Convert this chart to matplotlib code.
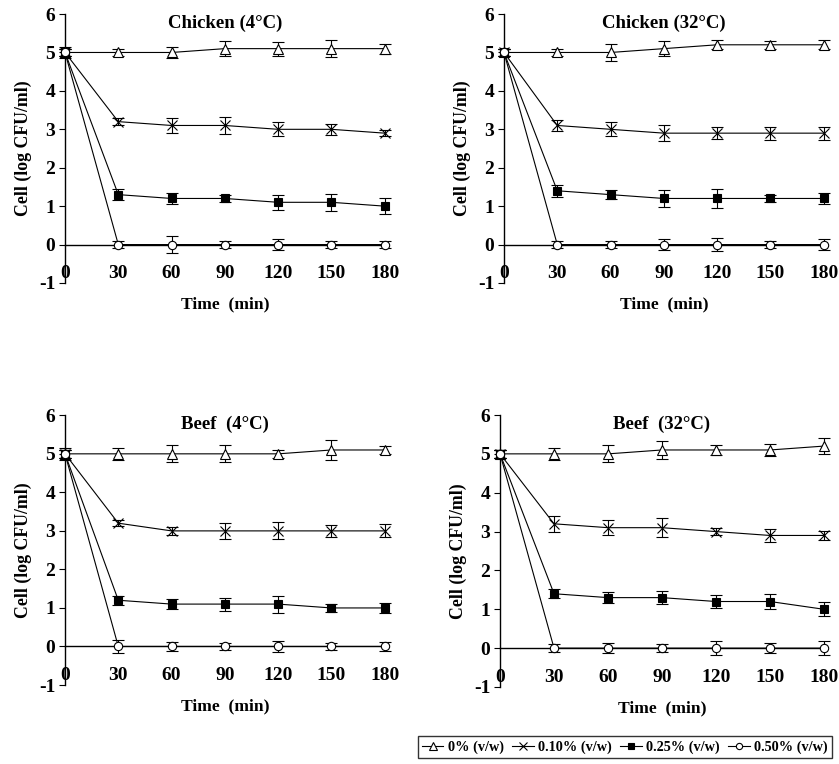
import matplotlib
matplotlib.use("Agg")
import matplotlib.pyplot as plt
from matplotlib.lines import Line2D

plt.rcParams['font.family'] = ['Liberation Serif', 'DejaVu Serif']
plt.rcParams['font.weight'] = 'bold'
plt.rcParams['axes.unicode_minus'] = False

time = [0, 30, 60, 90, 120, 150, 180]
labels = ['0% (v/w)', '0.10% (v/w)', '0.25% (v/w)', '0.50% (v/w)']

# Chicken 4C
ck4_0 = [5, 5, 5, 5.1, 5.1, 5.1, 5.1]
ck4_0_err = [0.15, 0.1, 0.15, 0.2, 0.18, 0.22, 0.13]
ck4_10 = [5, 3.2, 3.1, 3.1, 3.0, 3.0, 2.9]
ck4_10_err = [0.1, 0.1, 0.2, 0.22, 0.18, 0.15, 0.08]
ck4_25 = [5, 1.3, 1.2, 1.2, 1.1, 1.1, 1.0]
ck4_25_err = [0.1, 0.15, 0.15, 0.08, 0.2, 0.22, 0.2]
ck4_50 = [5, 0, 0, 0, 0, 0, 0]
ck4_50_err = [0.1, 0.08, 0.22, 0.08, 0.15, 0.08, 0.08]

# Chicken 32C
ck32_0 = [5, 5, 5, 5.1, 5.2, 5.2, 5.2]
ck32_0_err = [0.1, 0.1, 0.22, 0.2, 0.12, 0.1, 0.12]
ck32_10 = [5, 3.1, 3.0, 2.9, 2.9, 2.9, 2.9]
ck32_10_err = [0.1, 0.15, 0.18, 0.2, 0.15, 0.17, 0.17]
ck32_25 = [5, 1.4, 1.3, 1.2, 1.2, 1.2, 1.2]
ck32_25_err = [0.1, 0.15, 0.12, 0.22, 0.25, 0.1, 0.15]
ck32_50 = [5, 0, 0, 0, 0, 0, 0]
ck32_50_err = [0.1, 0.1, 0.1, 0.15, 0.18, 0.1, 0.15]

# Beef 4C
bf4_0 = [5, 5, 5, 5, 5, 5.1, 5.1]
bf4_0_err = [0.15, 0.15, 0.22, 0.22, 0.1, 0.25, 0.1]
bf4_10 = [5, 3.2, 3.0, 3.0, 3.0, 3.0, 3.0]
bf4_10_err = [0.1, 0.08, 0.1, 0.2, 0.22, 0.15, 0.17]
bf4_25 = [5, 1.2, 1.1, 1.1, 1.1, 1.0, 1.0]
bf4_25_err = [0.1, 0.12, 0.12, 0.17, 0.22, 0.1, 0.12]
bf4_50 = [5, 0, 0, 0, 0, 0, 0]
bf4_50_err = [0.1, 0.18, 0.12, 0.1, 0.15, 0.08, 0.12]

# Beef 32C
bf32_0 = [5, 5, 5, 5.1, 5.1, 5.1, 5.2]
bf32_0_err = [0.1, 0.15, 0.22, 0.22, 0.12, 0.15, 0.2]
bf32_10 = [5, 3.2, 3.1, 3.1, 3.0, 2.9, 2.9]
bf32_10_err = [0.1, 0.2, 0.2, 0.25, 0.08, 0.17, 0.12]
bf32_25 = [5, 1.4, 1.3, 1.3, 1.2, 1.2, 1.0]
bf32_25_err = [0.1, 0.12, 0.14, 0.17, 0.17, 0.2, 0.18]
bf32_50 = [5, 0, 0, 0, 0, 0, 0]
bf32_50_err = [0.1, 0.1, 0.13, 0.1, 0.18, 0.12, 0.18]

panels = [
    ("Chicken (4°C)", [0.0775, 0.6296, 0.381, 0.352],
     [(ck4_0, ck4_0_err), (ck4_10, ck4_10_err), (ck4_25, ck4_25_err), (ck4_50, ck4_50_err)]),
    ("Chicken (32°C)", [0.6007, 0.6296, 0.381, 0.352],
     [(ck32_0, ck32_0_err), (ck32_10, ck32_10_err), (ck32_25, ck32_25_err), (ck32_50, ck32_50_err)]),
    ("Beef  (4°C)", [0.0775, 0.1034, 0.381, 0.353],
     [(bf4_0, bf4_0_err), (bf4_10, bf4_10_err), (bf4_25, bf4_25_err), (bf4_50, bf4_50_err)]),
    ("Beef  (32°C)", [0.596, 0.1008, 0.386, 0.356],
     [(bf32_0, bf32_0_err), (bf32_10, bf32_10_err), (bf32_25, bf32_25_err), (bf32_50, bf32_50_err)]),
]

styles = [
    dict(marker='^', mfc='white', mec='black', ms=7),
    dict(marker='x', mfc='black', mec='black', ms=7),
    dict(marker='s', mfc='black', mec='black', ms=6),
    dict(marker='o', mfc='white', mec='black', ms=6),
]

fig = plt.figure(figsize=(8.39, 7.64), dpi=100)

for title, pos, series in panels:
    ax = fig.add_axes(pos)
    for (vals, errs), st in zip(series, styles):
        ax.errorbar(time, vals, yerr=errs, color='black', lw=0.8, elinewidth=0.8,
                    capsize=4, capthick=0.8, mew=0.8, clip_on=False, zorder=3, **st)
    ax.set_xlim(0, 180)
    ax.set_ylim(-1, 6)
    ax.set_xticks(time)
    ax.set_yticks(range(-1, 7))
    ax.spines['top'].set_visible(False)
    ax.spines['right'].set_visible(False)
    ax.spines['bottom'].set_position(('data', 0))
    ax.spines['left'].set_linewidth(1.0)
    ax.spines['bottom'].set_linewidth(1.0)
    ax.tick_params(axis='x', length=0, pad=15, labelsize=14)
    ax.tick_params(axis='y', direction='out', length=4, labelsize=14, pad=3)
    for lab in ax.get_xticklabels() + ax.get_yticklabels():
        lab.set_fontweight('bold')
    ax.set_ylabel("Cell (log CFU/ml)", fontsize=12.8, fontweight='bold', labelpad=5)
    ax.text(0.5, 0.965, title, transform=ax.transAxes, ha='center', va='center',
            fontsize=13.5, fontweight='bold')
    ax.text(0.5, -0.05, "Time  (min)", transform=ax.transAxes, ha='center', va='top',
            fontsize=12.6, fontweight='bold')

handles = [Line2D([0], [0], color='black', lw=0.8, mew=0.8,
                  **{k: (v * 0.75 if k == 'ms' else v) for k, v in st.items()})
           for st in styles]
fig.legend(handles, labels, loc='lower right', bbox_to_anchor=(1.0, -0.002), ncol=4,
           frameon=True, fancybox=False, edgecolor='black', handlelength=1.5,
           handletextpad=0.3, columnspacing=0.6, borderpad=0.3,
           prop={'weight': 'bold', 'size': 10.3})

fig.savefig("out.png", dpi=100)
